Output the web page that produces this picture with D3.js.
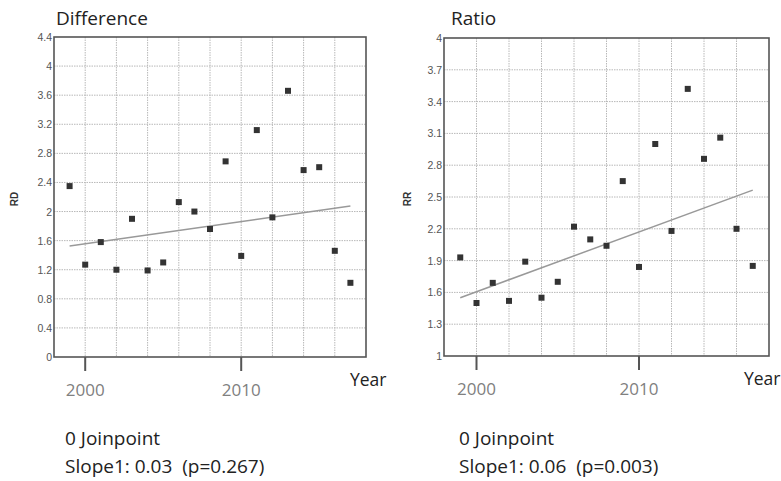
<!DOCTYPE html>
<html>
<head>
<meta charset="utf-8">
<script src="https://cdn.jsdelivr.net/npm/d3@7"></script>
<style>
  html, body { margin: 0; padding: 0; background: #fff; }
  svg { display: block; }
  .grid line { stroke: #b8b8b8; stroke-width: 1; stroke-dasharray: 1.5 1; }
  .frame { fill: none; stroke: #555; stroke-width: 1.6; }
  .ytick { font-family: "Liberation Sans", Arial, sans-serif; font-size: 10.5px; fill: #555; }
  .xtick { font-family: "Open Sans", sans-serif; font-size: 17px; fill: #808080; }
  .title { font-family: "Open Sans", sans-serif; font-size: 19px; fill: #222; }
  .year { font-family: "Open Sans", sans-serif; font-size: 17.5px; fill: #222; }
  .note { font-family: "Open Sans", sans-serif; font-size: 19px; fill: #222; white-space: pre; }
  .ylab { font-family: "Liberation Sans", Arial, sans-serif; font-size: 10px; font-weight: bold; fill: #333; }
</style>
</head>
<body>
<div id="chart"></div>
<script>
const years = [1999, 2000, 2001, 2002, 2003, 2004, 2005, 2006, 2007, 2008, 2009, 2010, 2011, 2012, 2013, 2014, 2015, 2016, 2017];
const rdValues = [2.35, 1.27, 1.58, 1.2, 1.9, 1.19, 1.3, 2.13, 2.0, 1.76, 2.69, 1.39, 3.12, 1.92, 3.66, 2.57, 2.61, 1.46, 1.02];
const rrValues = [1.93, 1.5, 1.69, 1.52, 1.89, 1.55, 1.7, 2.22, 2.1, 2.04, 2.65, 1.84, 3.0, 2.18, 3.52, 2.86, 3.06, 2.2, 1.85];
const fitYears = [1999, 2017];
const rdFit = [1.525, 2.075];
const rrFit = [1.55, 2.565];
const rdTicks = [0, 0.4, 0.8, 1.2, 1.6, 2, 2.4, 2.8, 3.2, 3.6, 4, 4.4];
const rrTicks = [1, 1.3, 1.6, 1.9, 2.2, 2.5, 2.8, 3.1, 3.4, 3.7, 4];
const gridYears = [2000, 2002, 2004, 2006, 2008, 2010, 2012, 2014, 2016];
const labelYears = [2000, 2010];
const yearDomain = [1998, 2018];

const svg = d3.select("#chart").append("svg").attr("width", 781).attr("height", 481);

const panels = [
  {
    title: "Difference", ylabel: "RD", values: rdValues, fit: rdFit, ticks: rdTicks,
    notes: ["0 Joinpoint", "Slope1: 0.03  (p=0.267)"],
    left: 54, right: 366, top: 37, bottom: 357, titleX: 56, noteX: 65, ylabX: 18, yearX: 350
  },
  {
    title: "Ratio", ylabel: "RR", values: rrValues, fit: rrFit, ticks: rrTicks,
    notes: ["0 Joinpoint", "Slope1: 0.06  (p=0.003)"],
    left: 444, right: 769, top: 38, bottom: 356, titleX: 451, noteX: 459, ylabX: 411, yearX: 744
  }
];

panels.forEach(drawPanel);

function drawPanel(p) {
  const x = d3.scaleLinear().domain(yearDomain).range([p.left, p.right]);
  const y = d3.scaleLinear().domain(d3.extent(p.ticks)).range([p.bottom, p.top]);
  const g = svg.append("g");

  const grid = g.append("g").attr("class", "grid");
  grid.selectAll(".hg").data(p.ticks.slice(1, -1)).join("line")
    .attr("x1", p.left).attr("x2", p.right)
    .attr("y1", (d) => y(d)).attr("y2", (d) => y(d));
  grid.selectAll(".vg").data(gridYears).join("line")
    .attr("x1", (d) => x(d)).attr("x2", (d) => x(d))
    .attr("y1", p.top).attr("y2", p.bottom);

  g.append("rect").attr("class", "frame")
    .attr("x", p.left).attr("y", p.top)
    .attr("width", p.right - p.left).attr("height", p.bottom - p.top);

  g.selectAll(".ytick").data(p.ticks).join("text")
    .attr("class", "ytick")
    .attr("x", p.left - 2).attr("y", (d) => y(d) + 4)
    .attr("text-anchor", "end")
    .text((d) => String(d));

  g.selectAll(".xmark").data(labelYears).join("line")
    .attr("x1", (d) => x(d)).attr("x2", (d) => x(d))
    .attr("y1", p.bottom).attr("y2", p.bottom + 14)
    .attr("stroke", "#555").attr("stroke-width", 2);

  g.selectAll(".xtick").data(labelYears).join("text")
    .attr("class", "xtick")
    .attr("x", (d) => x(d)).attr("y", p.bottom + 39)
    .attr("text-anchor", "middle")
    .text((d) => d);

  g.append("text").attr("class", "year").attr("x", p.yearX).attr("y", p.bottom + 29).text("Year");

  g.append("text").attr("class", "title").attr("x", p.titleX).attr("y", 25).text(p.title);

  g.append("text").attr("class", "ylab")
    .attr("transform", `translate(${p.ylabX},${(p.top + p.bottom) / 2 + 2}) rotate(-90)`)
    .attr("text-anchor", "middle")
    .text(p.ylabel);

  const line = d3.line().x((d) => x(d[0])).y((d) => y(d[1]));
  g.append("path")
    .attr("d", line(fitYears.map((yr, i) => [yr, p.fit[i]])))
    .attr("fill", "none").attr("stroke", "#999").attr("stroke-width", 1.5);

  g.selectAll(".pt").data(years.map((yr, i) => [yr, p.values[i]])).join("rect")
    .attr("x", (d) => x(d[0]) - 3).attr("y", (d) => y(d[1]) - 3)
    .attr("width", 6).attr("height", 6)
    .attr("fill", "#333");

  g.selectAll(".note").data(p.notes).join("text")
    .attr("class", "note")
    .attr("x", p.noteX).attr("y", (d, i) => 445 + i * 28)
    .text((d) => d);
}
</script>
</body>
</html>
